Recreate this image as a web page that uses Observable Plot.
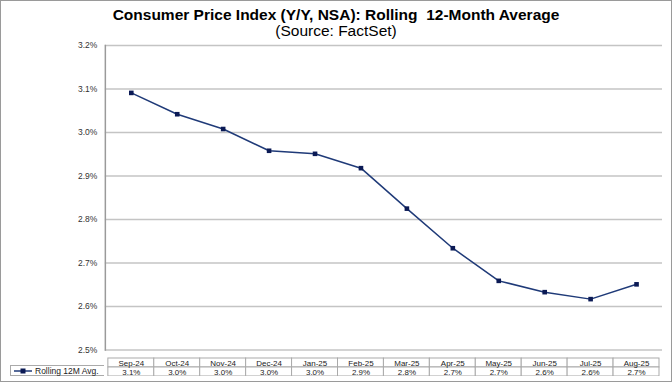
<!DOCTYPE html>
<html>
<head>
<meta charset="utf-8">
<script src="https://cdn.jsdelivr.net/npm/d3@7"></script>
<script src="https://cdn.jsdelivr.net/npm/@observablehq/plot@0.6"></script>
<style>
  html, body { margin: 0; padding: 0; background: #fff; }
  #wrap { position: relative; width: 670px; height: 380px; border: 1px solid #9a9a9a; overflow: hidden; font-family: Arial, "Liberation Sans", sans-serif; }
  #title { position: absolute; top: 5px; left: 0; width: 670px; text-align: center; font-weight: bold; font-size: 15.5px; color: #000; white-space: pre; line-height: 18px; }
  #subtitle { position: absolute; top: 21px; left: 0; width: 670px; text-align: center; font-size: 15.5px; color: #000; line-height: 18px; }
  #main { position: absolute; top: 35px; left: -1px; }
  #table { position: absolute; top: 355px; left: -1px; }
  #legend { position: absolute; left: 9px; top: 364px; width: 93px; height: 9px; border: 1px solid #aaa; border-right: none; font-size: 8.5px; color: #222; display: flex; align-items: center; white-space: nowrap; }
  #legend svg { margin-left: 3px; margin-right: 3px; }
</style>
</head>
<body>
<div id="wrap">
  <div id="title">Consumer Price Index (Y/Y, NSA): Rolling  12-Month Average</div>
  <div id="subtitle">(Source: FactSet)</div>
  <div id="main"></div>
  <div id="table"></div>
  <div id="legend"></div>
</div>
<script>
const seriesName = "Rolling 12M Avg.";
const months = ["Sep-24","Oct-24","Nov-24","Dec-24","Jan-25","Feb-25","Mar-25","Apr-25","May-25","Jun-25","Jul-25","Aug-25"];
const values = [3.091, 3.042, 3.008, 2.958, 2.951, 2.918, 2.825, 2.734, 2.659, 2.633, 2.617, 2.651];
const yTicks = [2.5, 2.6, 2.7, 2.8, 2.9, 3.0, 3.1, 3.2];

const data = months.map((m, i) => ({month: m, value: values[i]}));
const fmt = v => v.toFixed(1) + "%";
const lineColor = "#1f3a78";
const markColor = "#0b1a55";

const chart = Plot.plot({
  width: 672,
  height: 325,
  marginTop: 9,
  marginBottom: 11,
  marginLeft: 105,
  marginRight: 9,
  style: {fontFamily: "Arial, 'Liberation Sans', sans-serif", fontSize: "8.5px", color: "#333", background: "transparent"},
  x: {type: "point", domain: months, padding: 0.5, axis: null},
  y: {domain: [2.5, 3.2], axis: null},
  marks: [
    Plot.ruleY(yTicks, {stroke: "#c4c4c4", strokeWidth: 1.6}),
    Plot.frame({anchor: "left", stroke: "#9a9a9a", strokeWidth: 1.5}),
    Plot.axisY({ticks: yTicks, tickSize: 0, tickPadding: 8, tickFormat: fmt, label: null, fontSize: 8.5, fill: "#333"}),
    Plot.line(data, {x: "month", y: "value", stroke: lineColor, strokeWidth: 1.5}),
    Plot.dot(data, {x: "month", y: "value", symbol: "square", r: 2.6, fill: markColor, stroke: "none"})
  ]
});
document.getElementById("main").appendChild(chart);

const rows = ["head", "val"];
const tableData = months.flatMap((m, i) => [
  {month: m, row: "head", label: m},
  {month: m, row: "val", label: fmt(values[i])}
]);
const table = Plot.plot({
  width: 672,
  height: 20,
  marginTop: 1.5,
  marginBottom: 0.5,
  marginLeft: 105,
  marginRight: 9,
  style: {fontFamily: "Arial, 'Liberation Sans', sans-serif", fontSize: "8px", color: "#222", background: "transparent"},
  x: {type: "band", domain: months, padding: 0, axis: null},
  y: {type: "band", domain: rows, padding: 0, axis: null},
  marks: [
    Plot.cell(tableData, {x: "month", y: "row", fill: "white", stroke: "#aaa", strokeWidth: 1, inset: 0}),
    Plot.text(tableData, {x: "month", y: "row", text: "label", fill: "#222", fontSize: 8})
  ]
});
document.getElementById("table").appendChild(table);

const leg = document.getElementById("legend");
leg.innerHTML = `<svg width="18" height="6"><line x1="0" y1="3" x2="18" y2="3" stroke="${lineColor}" stroke-width="1.5"/><rect x="6.5" y="0.5" width="5" height="5" fill="${markColor}"/></svg><span>${seriesName}</span>`;
</script>
</body>
</html>
